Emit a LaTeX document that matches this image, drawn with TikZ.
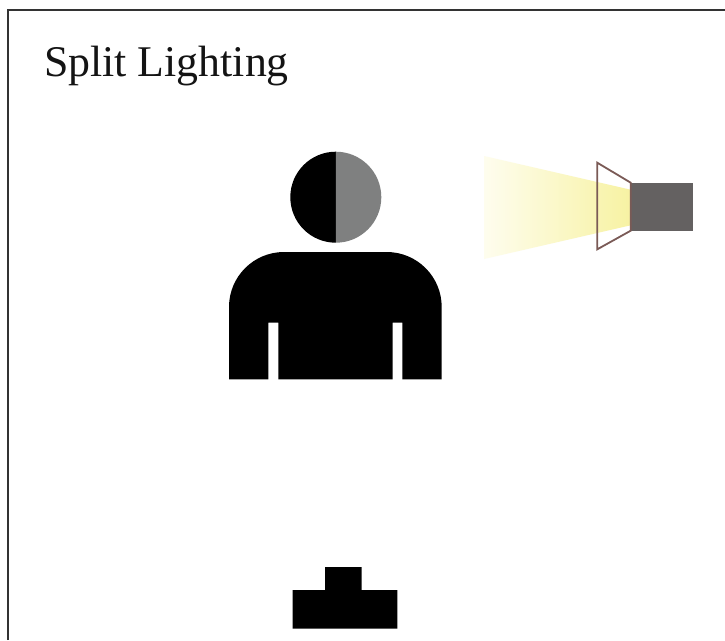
\documentclass[tikz,border=0pt]{standalone}
\usepackage{fontspec}
\setmainfont{Liberation Serif}
\definecolor{beamcol}{HTML}{F7F2A2}
\definecolor{beamedge}{HTML}{FEFDEE}
\definecolor{lampbox}{HTML}{646161}
\definecolor{lampline}{HTML}{7A5A56}
\definecolor{facegrey}{HTML}{7F8080}
\begin{document}
\begin{tikzpicture}[x=1pt,y=-1pt,
  silhouette/.style={fill=black,draw=none},
  titletext/.style={anchor=base west,inner sep=0pt,font=\fontsize{43.8}{48}\selectfont,text=black!92},
  frameline/.style={draw=black!80,line width=1.7pt}]
\useasboundingbox (0,0) rectangle (725,640);
\fill[white] (0,0) rectangle (725,640);
\draw[frameline] (8.3,640) -- (8.3,9.8) -- (725,9.8);
\node[titletext] (title) at (44,76) {Split Lighting};
% beam
\begin{scope}
\clip (484,156) -- (632,190) -- (632,225) -- (484,259) -- cycle;
\shade[left color=beamedge,right color=beamcol] (484,150) rectangle (632,265);
\end{scope}
% lamp
\fill[lampbox] (631,182.7) rectangle (692.7,230.7);
\draw[draw=lampline,line width=1.8pt,line join=miter] (597.3,162.7) -- (630.7,182.7) -- (630.7,230.7) -- (597.3,249.3) -- cycle;
% head
\fill[black] (335.8,151.7) arc[start angle=270,end angle=90,radius=45.5] -- cycle;
\fill[facegrey] (335.8,151.7) arc[start angle=-90,end angle=90,radius=45.5] -- cycle;
% body
\fill[silhouette] (229,379.3) -- (229,307) arc[start angle=180,end angle=270,radius=55] -- (386.7,252) arc[start angle=270,end angle=360,radius=55] -- (441.7,379.3) -- (402.3,379.3) -- (402.3,322.7) -- (392.7,322.7) -- (392.7,379.3) -- (278.3,379.3) -- (278.3,322.7) -- (268.3,322.7) -- (268.3,379.3) -- cycle;
% stand
\fill[silhouette] (292.7,628.7) -- (292.7,590) -- (325,590) -- (325,567) -- (361.7,567) -- (361.7,590) -- (397.3,590) -- (397.3,628.7) -- cycle;
\end{tikzpicture}
\end{document}
